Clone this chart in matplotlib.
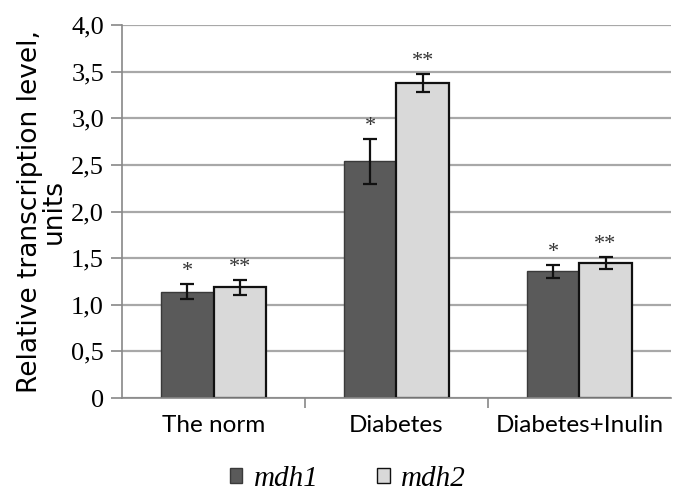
import matplotlib
matplotlib.use("Agg")
import matplotlib.pyplot as plt
import numpy as np
from matplotlib.patches import Patch

categories = ["The norm", "Diabetes", "Diabetes+Inulin"]
mdh1 = [1.14, 2.54, 1.36]
mdh2 = [1.19, 3.38, 1.45]
mdh1_err = [0.08, 0.24, 0.07]
mdh2_err = [0.08, 0.10, 0.065]
mdh1_sig = ["*", "*", "*"]
mdh2_sig = ["**", "**", "**"]
yticks = [0, 0.5, 1.0, 1.5, 2.0, 2.5, 3.0, 3.5, 4.0]
yticklabels = ["0", "0,5", "1,0", "1,5", "2,0", "2,5", "3,0", "3,5", "4,0"]

fig = plt.figure(figsize=(6.76, 4.91), dpi=100)
ax = fig.add_axes([0.1805, 0.1894, 0.812, 0.7596])

x = np.arange(len(categories))
w = 0.285
c1 = "#5a5a5a"
c2 = "#d9d9d9"

ax.set_axisbelow(True)
ax.yaxis.grid(True, color="#a8a8a8", lw=1.6)

ax.bar(x - w / 2, mdh1, w, color=c1, edgecolor="#3a3a3a", lw=1.0, zorder=2)
ax.bar(x + w / 2, mdh2, w, color=c2, edgecolor="#111111", lw=1.6, zorder=2)
ax.errorbar(x - w / 2, mdh1, yerr=mdh1_err, fmt="none", ecolor="#111111",
            elinewidth=1.6, capsize=5, capthick=1.6, zorder=3)
ax.errorbar(x + w / 2, mdh2, yerr=mdh2_err, fmt="none", ecolor="#111111",
            elinewidth=1.6, capsize=5, capthick=1.6, zorder=3)

for xi, v, e, s in zip(x - w / 2, mdh1, mdh1_err, mdh1_sig):
    ax.text(xi, v + e + 0.03, s, ha="center", va="bottom", fontsize=16,
            family="Liberation Serif", color="#333333")
for xi, v, e, s in zip(x + w / 2, mdh2, mdh2_err, mdh2_sig):
    ax.text(xi, v + e + 0.03, s, ha="center", va="bottom", fontsize=16,
            family="Liberation Serif", color="#333333")

ax.set_xlim(-0.5, 2.5)
ax.set_ylim(0, 4.0)
ax.set_yticks(yticks)
ax.set_yticklabels(yticklabels, family="Liberation Serif", fontsize=19)
ax.set_xticks(x)
ax.set_xticklabels(categories, family="Lato", fontsize=17.5)
ax.set_xticks([0.5, 1.5], minor=True)
ax.tick_params(axis="x", which="major", length=0, pad=12)
ax.tick_params(axis="x", which="minor", length=7, color="#888888", width=1.2)
ax.tick_params(axis="y", length=8, color="#888888", width=1.2, pad=5)

for sp in ["top", "right"]:
    ax.spines[sp].set_visible(False)
ax.spines["left"].set_color("#888888")
ax.spines["left"].set_linewidth(1.2)
ax.spines["bottom"].set_color("#888888")
ax.spines["bottom"].set_linewidth(1.2)

ax.set_ylabel("Relative transcription level,\nunits", fontsize=19,
              family="DejaVu Sans", linespacing=0.9)
ax.yaxis.set_label_coords(-0.10, 0.5)

handles = [Patch(facecolor=c1, edgecolor="#3a3a3a", label="mdh1"),
           Patch(facecolor=c2, edgecolor="#111111", label="mdh2")]
fig.legend(handles=handles, loc="center", bbox_to_anchor=(0.515, 0.025), ncol=2,
           frameon=False, handlelength=0.42, handleheight=0.42, handletextpad=0.4,
           columnspacing=2.0, borderpad=0.0,
           prop={"family": "Liberation Serif", "style": "italic", "size": 21})

fig.savefig("out.png", dpi=100)
